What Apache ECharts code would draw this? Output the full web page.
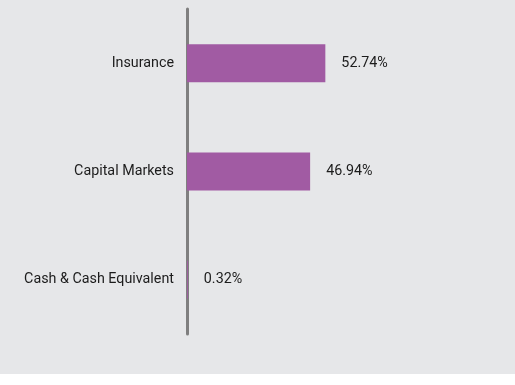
<!DOCTYPE html>
<html><head><meta charset="utf-8">
<script src="https://cdn.jsdelivr.net/npm/echarts@6/dist/echarts.min.js"></script>
<style>html,body{margin:0;padding:0;background:#fff;}#c{width:515px;height:374px;background:#e6e7e9;}</style>
</head><body><div id="c"></div>
<script>
const categories = ["Insurance", "Capital Markets", "Cash & Cash Equivalent"];
const values = [52.74, 46.94, 0.32];

const chart = echarts.init(document.getElementById('c'));
chart.setOption({
  backgroundColor: '#e6e7e9',
  animation: false,
  grid: { left: 187, right: 67, top: 9, bottom: 40, containLabel: false },
  xAxis: { type: 'value', min: 0, max: 99.5, show: false },
  yAxis: {
    type: 'category', data: categories, inverse: true,
    axisLine: { show: true, lineStyle: { color: '#7f7f7f', width: 3 } },
    axisTick: { show: false },
    axisLabel: { color: '#1c1c1c', fontSize: 14.3, fontFamily: 'Roboto', margin: 13 }
  },
  series: [{
    type: 'bar', data: values, barWidth: 38,
    itemStyle: { color: '#a15ba3' },
    label: { show: true, position: 'right', distance: 16, formatter: p => p.value.toFixed(2) + '%',
      color: '#1c1c1c', fontSize: 14.3, fontFamily: 'Roboto' }
  }]
});
</script></body></html>
